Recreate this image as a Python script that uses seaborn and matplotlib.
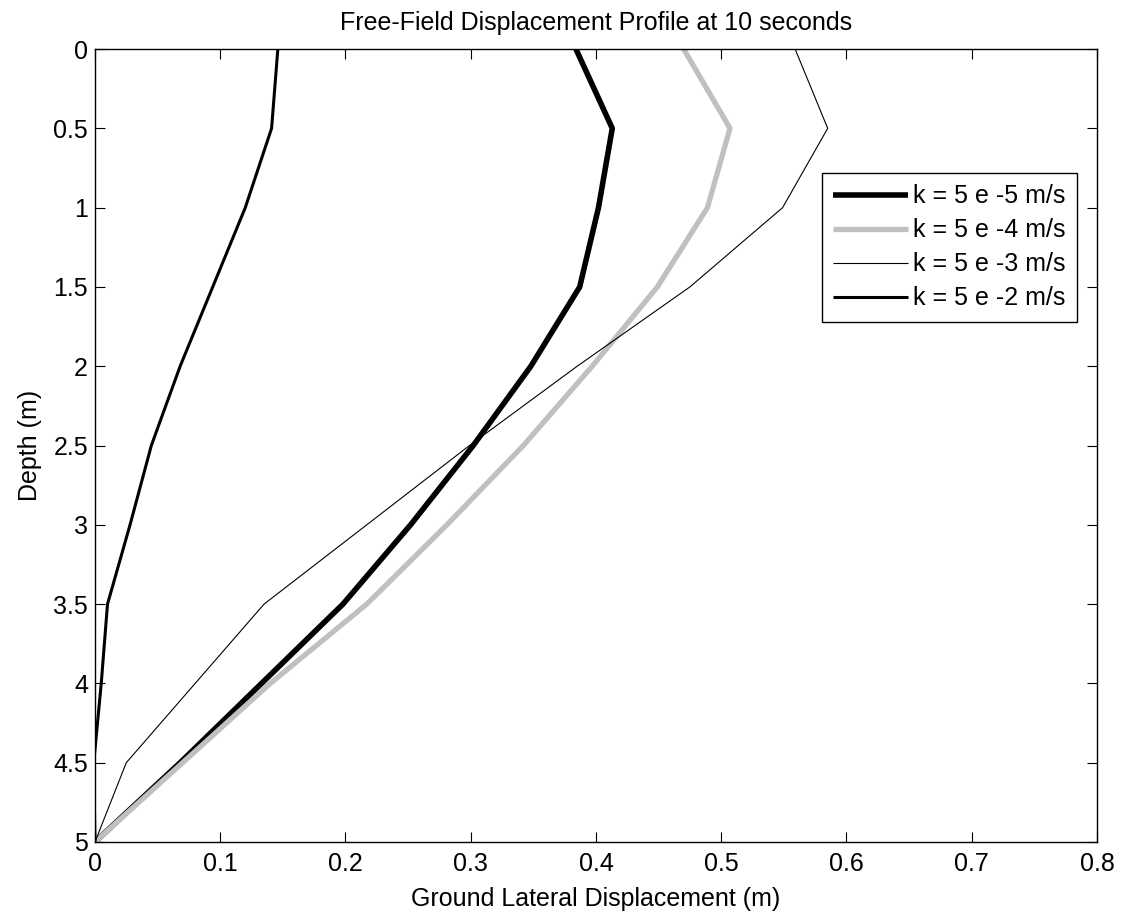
import numpy as np
import pandas as pd
import matplotlib
matplotlib.use("Agg")
import matplotlib.pyplot as plt
import seaborn as sns

# depth points (m)
depth = [0, 0.5, 1.0, 1.5, 2.0, 2.5, 3.0, 3.5, 4.0, 4.5, 5.0]

# ground lateral displacement (m) for each permeability
disp_5e5 = [0.384, 0.413, 0.402, 0.387, 0.348, 0.302, 0.252, 0.198, 0.133, 0.068, 0.0]
disp_5e4 = [0.470, 0.507, 0.489, 0.449, 0.397, 0.342, 0.281, 0.217, 0.140, 0.070, 0.0]
disp_5e3 = [0.559, 0.585, 0.549, 0.475, 0.385, 0.299, 0.217, 0.135, 0.080, 0.025, 0.0]
disp_5e2 = [0.146, 0.141, 0.120, 0.094, 0.068, 0.045, 0.028, 0.010, 0.005, -0.001, 0.0]

labels = ['k = 5 e -5 m/s', 'k = 5 e -4 m/s', 'k = 5 e -3 m/s', 'k = 5 e -2 m/s']

sns.set_style("ticks")
plt.rcParams['font.family'] = ['Liberation Sans', 'DejaVu Sans']
plt.rcParams.update({'text.color': 'black', 'axes.labelcolor': 'black',
                     'xtick.color': 'black', 'ytick.color': 'black'})

fig = plt.figure(figsize=(11.28, 9.15), dpi=100)
ax = fig.add_axes([0.0842, 0.0798, 0.8883, 0.8666])

series = [disp_5e5, disp_5e4, disp_5e3, disp_5e2]
colors = ['black', '#c0c0c0', 'black', 'black']
widths = [4.0, 3.8, 0.8, 2.2]

for vals, lab, c, w in zip(series, labels, colors, widths):
    df = pd.DataFrame({'disp': vals, 'depth': depth})
    sns.lineplot(data=df, x='disp', y='depth', sort=False, color=c, lw=w,
                 label=lab, ax=ax, solid_capstyle='butt')

ax.set_xlim(0, 0.8)
ax.set_ylim(5, 0)
ax.set_xticks(np.arange(0, 0.81, 0.1))
ax.set_xticklabels(['0', '0.1', '0.2', '0.3', '0.4', '0.5', '0.6', '0.7', '0.8'])
ax.set_yticks(np.arange(0, 5.01, 0.5))
ax.set_yticklabels(['0', '0.5', '1', '1.5', '2', '2.5', '3', '3.5', '4', '4.5', '5'])
ax.tick_params(direction='in', top=True, right=True, labelsize=18, length=7, width=0.8)
ax.tick_params(axis='x', pad=7)
ax.tick_params(axis='y', pad=5)
for s in ax.spines.values():
    s.set_linewidth(1.0)
    s.set_color('black')

ax.set_title('Free-Field Displacement Profile at 10 seconds', fontsize=18, pad=14)
ax.set_xlabel('Ground Lateral Displacement (m)', fontsize=18, labelpad=8)
ax.set_ylabel('Depth (m)', fontsize=18, labelpad=8)

leg = ax.legend(loc='upper right', bbox_to_anchor=(0.98, 0.8436), fontsize=18,
                frameon=True, fancybox=False, handlelength=3.0, handletextpad=0.2,
                labelspacing=0.4, borderpad=0.45, borderaxespad=0)
leg.get_frame().set_edgecolor('black')
leg.get_frame().set_linewidth(1.0)
leg.get_frame().set_alpha(1)

fig.savefig('out.png', dpi=100, facecolor='white')
